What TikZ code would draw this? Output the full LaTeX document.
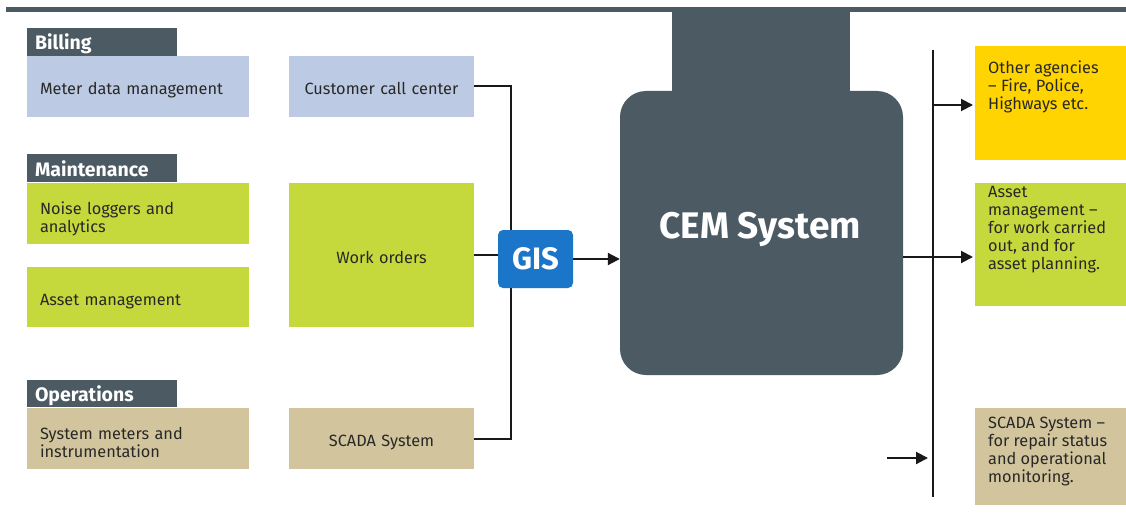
\documentclass[tikz,border=0pt]{standalone}
\usepackage{fontspec}
\setmainfont{Fira Sans}
\usetikzlibrary{arrows.meta,calc}
\definecolor{slate}{RGB}{75,90,99}
\definecolor{lblue}{RGB}{188,203,227}
\definecolor{lgreen}{RGB}{197,217,60}
\definecolor{tan}{RGB}{210,197,158}
\definecolor{yel}{RGB}{255,212,0}
\definecolor{gisblue}{RGB}{27,117,200}
\definecolor{txt}{RGB}{40,40,40}
\definecolor{wire}{RGB}{25,25,25}
\begin{document}
\begin{tikzpicture}[x=1pt,y=-1pt,
  box/.style={anchor=north west, inner ysep=0pt, inner xsep=13pt, outer sep=0pt, text=txt,
    font=\fontsize{16.3}{18}\selectfont},
  lbox/.style={box, align=left},
  cbox/.style={box, align=center},
  oneline/.style={text height=19pt, text depth=3pt},
  twoline/.style={text height=19pt, text depth=18pt},
  hdr/.style={anchor=north west, inner ysep=0pt, inner xsep=8pt, outer sep=0pt, fill=slate, text=white,
    font=\fontsize{19.5}{21}\bfseries\selectfont, align=left, text width=134pt, minimum width=150pt,
    text height=18pt, text depth=2pt},
  rtext/.style={anchor=north west, inner sep=0pt, text=txt, align=left, font=\fontsize{16.3}{18}\selectfont},
  wireline/.style={draw=wire, line width=2pt},
  arr/.style={wireline, -{Triangle[length=12pt,width=12pt]}}]
\useasboundingbox (0,0) rectangle (1126,516);
\fill[white] (0,0) rectangle (1126,516);
% top bar
\draw[slate, line width=4.5pt] (6,9.7) -- (1126,9.7);
% left column
\node[hdr, minimum height=28pt] (hbill) at (27,28) {Billing};
\node[lbox, oneline, fill=lblue, text width=196pt, minimum height=61pt] (mdm) at (27,56) {Meter data management};
\node[cbox, oneline, fill=lblue, text width=159pt, minimum height=61pt] (ccc) at (289,56) {Customer call center};
\node[hdr, minimum height=28pt] (hmaint) at (27,154) {Maintenance};
\node[lbox, twoline, fill=lgreen, text width=196pt, minimum height=61pt] (noise) at (27,183) {Noise loggers and\\analytics};
\node[lbox, oneline, fill=lgreen, text width=196pt, minimum height=60pt] (amL) at (27,267) {Asset management};
\node[cbox, oneline, fill=lgreen, text width=159pt, minimum height=144pt] (wo) at (289,183) {Work orders};
\node[hdr, minimum height=27pt] (hops) at (27,380) {Operations};
\node[lbox, twoline, fill=tan, text width=196pt, minimum height=61pt] (sysm) at (27,408) {System meters and\\instrumentation};
\node[cbox, oneline, fill=tan, text width=159pt, minimum height=61pt] (scadaL) at (289,408) {SCADA System};
% connectors to GIS
\draw[wireline] (ccc.east) -- ++(37,0) |- (scadaL.east);
\draw[wireline] (wo.east) -- ++(30,0);
\node[fill=gisblue, rounded corners=5pt, minimum width=75pt, minimum height=58pt, inner sep=0pt,
  text=white, font=\fontsize{31}{33}\bfseries\selectfont] (gis) at (535.5,259) {GIS};
% CEM system
\fill[slate] (672,9) rectangle (850,110);
\node[fill=slate, rounded corners=26pt, minimum width=283pt, minimum height=284pt, inner sep=0pt] (cem) at (761.5,233) {};
\node[text=white, font=\fontsize{37}{40}\bfseries\selectfont, inner sep=0pt] (cemt) at (760,229) {CEM System};
\draw[arr] (gis.east) -- (gis.east -| cem.west);
% right side
\coordinate (bt) at (933,50);
\coordinate (bb) at (933,497);
\draw[wireline] (bt) -- (bb);
\node[box, fill=yel, minimum width=151pt, minimum height=114pt] (oa) at (975,46) {};
\node[rtext] (oat) at (988,61) {Other agencies\\– Fire, Police,\\Highways etc.};
\node[box, fill=lgreen, minimum width=151pt, minimum height=123pt] (amR) at (975,183) {};
\node[rtext] (amt) at (988,186) {Asset\\management –\\for work carried\\out, and for\\asset planning.};
\node[box, fill=tan, minimum width=151pt, minimum height=97pt] (scadaR) at (975,408) {};
\node[rtext] (scadat) at (988,417) {SCADA System –\\for repair status\\and operational\\monitoring.};
\draw[arr, shorten >=2pt] (bt |- 0,105) -- (oa.west |- 0,105);
\draw[arr, shorten >=2pt] ([yshift=-24pt]cem.east) -- ([yshift=-24pt]cem.east -| amR.west);
\coordinate (sin) at (887,458);
\draw[arr, shorten >=5pt] (sin) -- (sin -| bb);
\end{tikzpicture}
\end{document}
